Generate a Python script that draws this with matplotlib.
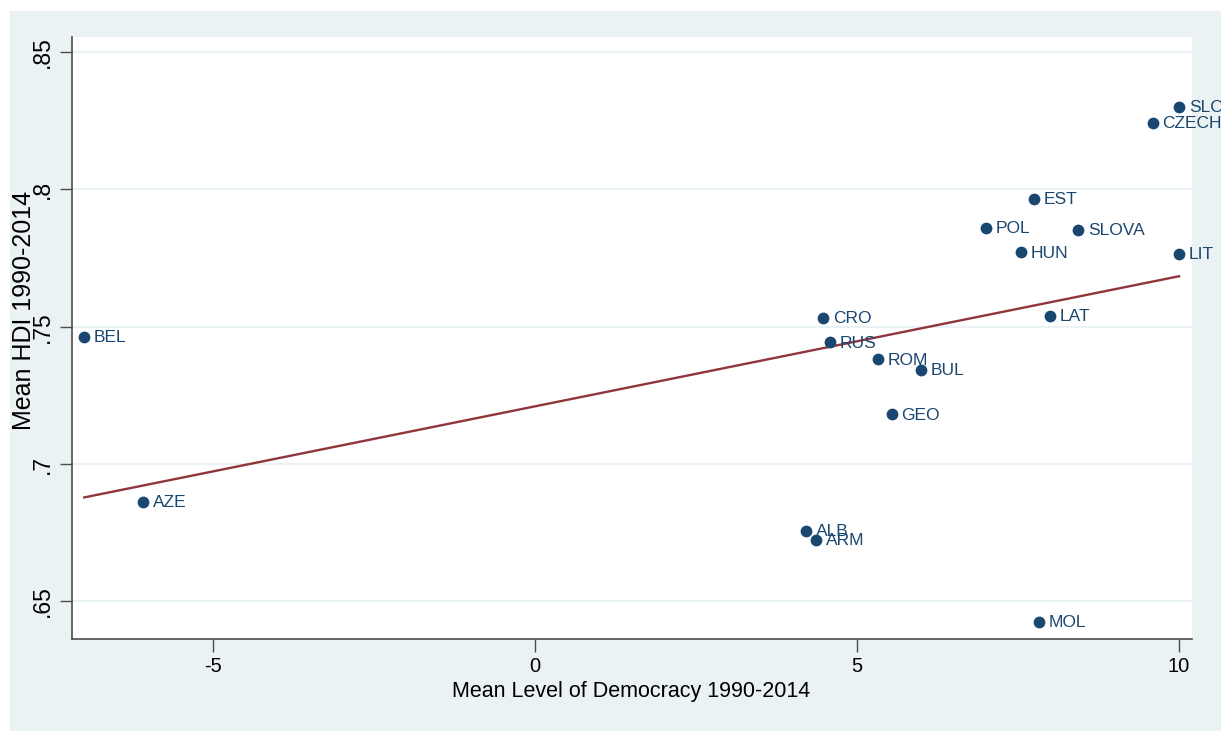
import numpy as np
import matplotlib
matplotlib.use("Agg")
import matplotlib.pyplot as plt
from matplotlib.patches import Rectangle

countries = ["BEL", "AZE", "ALB", "ARM", "CRO", "RUS", "ROM", "BUL", "GEO", "MOL",
             "LAT", "SLO", "CZECH", "EST", "POL", "SLOVA", "HUN", "LIT"]
democracy = [-7.0, -6.09, 4.21, 4.36, 4.47, 4.58, 5.33, 5.99, 5.54, 7.82,
             7.99, 10.0, 9.59, 7.75, 7.0, 8.43, 7.54, 10.0]
hdi = [0.7462, 0.6862, 0.6756, 0.6723, 0.7533, 0.7443, 0.7381, 0.7342, 0.7181, 0.6425,
       0.7540, 0.8301, 0.8241, 0.7965, 0.7861, 0.7852, 0.7771, 0.7764]

xticks = [-5, 0, 5, 10]
xticklabels = ["-5", "0", "5", "10"]
yticks = [0.65, 0.70, 0.75, 0.80, 0.85]
yticklabels = [".65", ".7", ".75", ".8", ".85"]

W, H = 1221, 731
plt.rcParams["font.family"] = ["Liberation Sans", "DejaVu Sans"]
fig = plt.figure(figsize=(W / 100, H / 100), dpi=100, facecolor="white")

bg = "#EAF2F3"
fig.patches.append(Rectangle((10 / W, 0 / H), (W - 10) / W, (H - 10 - 1) / H,
                             transform=fig.transFigure, facecolor=bg, edgecolor="none", zorder=-10))

ax = fig.add_axes([72 / W, 1 - 639 / H, (1192 - 72) / W, (639 - 37) / H])
ax.set_zorder(1)
ax.set_facecolor("white")
ax.set_xlim(-7.19, 10.2)
ax.set_ylim(0.6363, 0.8555)

for y in yticks:
    ax.axhline(y, color=bg, lw=1.6, zorder=1)

navy = "#1a476f"
x = np.array(democracy)
y = np.array(hdi)
ax.scatter(x, y, s=72, color=navy, zorder=3, linewidths=0)
for name, xi, yi in zip(countries, x, y):
    ax.annotate(name, (xi, yi), xytext=(7, -0.5), textcoords="offset points",
                ha="left", va="center", fontsize=12.5, color=navy, zorder=4,
                annotation_clip=False)

b, a = np.polyfit(x, y, 1)
xs = np.array([x.min(), x.max()])
ax.plot(xs, a + b * xs, color="#90353b", lw=1.7, zorder=2)

for s in ["top", "right"]:
    ax.spines[s].set_visible(False)
for s in ["left", "bottom"]:
    ax.spines[s].set_color("#4d4d4d")
    ax.spines[s].set_linewidth(1.2)

ax.set_xticks(xticks)
ax.set_xticklabels(xticklabels, fontsize=14.5)
ax.set_yticks(yticks)
ax.set_yticklabels(yticklabels, fontsize=16.5, rotation=90, va="center")
ax.tick_params(axis="both", direction="out", length=9, width=1.0, color="#4d4d4d", pad=4)

fig.text(631 / W, 1 - 692 / H, "Mean Level of Democracy 1990-2014", ha="center", va="center", fontsize=15.5)
fig.text(24 / W, 1 - 310 / H, "Mean HDI 1990-2014", ha="center", va="center", rotation=90, fontsize=18)

fig.savefig("out.png", dpi=100, facecolor="white")
